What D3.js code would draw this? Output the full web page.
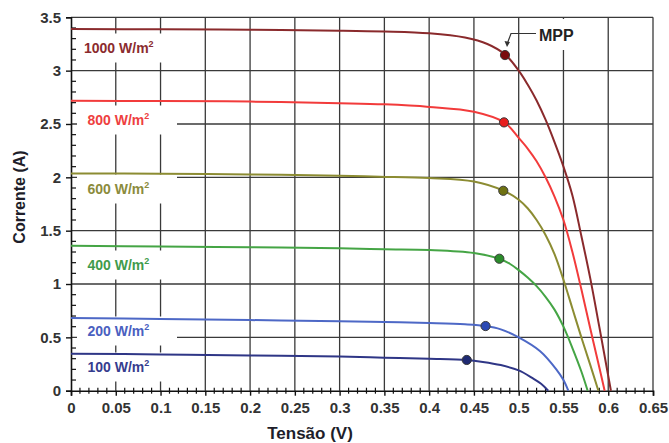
<!DOCTYPE html>
<html><head><meta charset="utf-8">
<script src="https://cdn.jsdelivr.net/npm/d3@7"></script>
<style>
html,body{margin:0;padding:0;background:#fff;}
svg{display:block;font-family:"Liberation Sans",Arial,Helvetica,sans-serif;}
</style></head>
<body><div id="chart"></div>
<script>
// ---------- data ----------
const xTicks = [0,0.05,0.1,0.15,0.2,0.25,0.3,0.35,0.4,0.45,0.5,0.55,0.6,0.65];
const xTickLabels = ["0","0.05","0.1","0.15","0.2","0.25","0.3","0.35","0.4","0.45","0.5","0.55","0.6","0.65"];
const yTicks = [0,0.5,1,1.5,2,2.5,3,3.5];
const yTickLabels = ["0","0.5","1","1.5","2","2.5","3","3.5"];
const irradiance = ["1000","800","600","400","200","100"];

// I-V curves: [tensão (V), corrente (A)]
const curve1000 = [[0,3.39],[0.1,3.387],[0.2,3.383],[0.3,3.375],[0.35,3.367],[0.4,3.35],[0.44,3.31],[0.465,3.25],[0.485,3.15],[0.5,3.0],[0.51,2.87],[0.52,2.72],[0.53,2.54],[0.54,2.33],[0.55,2.1],[0.56,1.83],[0.57,1.45],[0.58,1.05],[0.59,0.6],[0.603,0]];
const curve800  = [[0,2.718],[0.1,2.715],[0.2,2.71],[0.3,2.695],[0.35,2.684],[0.4,2.66],[0.45,2.615],[0.484,2.515],[0.5,2.37],[0.51,2.27],[0.52,2.15],[0.53,2.0],[0.54,1.82],[0.55,1.6],[0.56,1.3],[0.57,0.95],[0.58,0.58],[0.59,0.22],[0.596,0]];
const curve600  = [[0,2.037],[0.1,2.033],[0.2,2.027],[0.3,2.015],[0.345,2.006],[0.4,1.993],[0.45,1.96],[0.483,1.874],[0.5,1.79],[0.51,1.71],[0.52,1.6],[0.53,1.46],[0.54,1.28],[0.55,1.04],[0.56,0.77],[0.57,0.5],[0.58,0.24],[0.589,0]];
const curve400  = [[0,1.359],[0.1,1.352],[0.2,1.345],[0.3,1.335],[0.35,1.325],[0.4,1.318],[0.45,1.29],[0.478,1.237],[0.49,1.19],[0.5,1.13],[0.51,1.06],[0.52,0.98],[0.53,0.88],[0.54,0.76],[0.55,0.6],[0.56,0.4],[0.57,0.18],[0.577,0]];
const curve200  = [[0,0.681],[0.1,0.672],[0.2,0.662],[0.3,0.652],[0.35,0.644],[0.4,0.634],[0.44,0.622],[0.463,0.606],[0.48,0.575],[0.5,0.5],[0.524,0.37],[0.542,0.2],[0.55,0.1],[0.5554,0]];
const curve100  = [[0,0.347],[0.1,0.34],[0.2,0.33],[0.3,0.32],[0.35,0.31],[0.4,0.30],[0.442,0.288],[0.46,0.27],[0.48,0.24],[0.5,0.19],[0.515,0.12],[0.525,0.065],[0.533,0]];
const curves = [curve1000, curve800, curve600, curve400, curve200, curve100];

// maximum power points [V, I]
const mppPoints = [[0.4847,3.146],[0.4836,2.515],[0.4828,1.874],[0.4784,1.237],[0.463,0.606],[0.442,0.288]];

// ---------- style / layout ----------
const lineColors   = ["#8a2a2c","#f23b3b","#8c8c32","#45a545","#4d68c6","#2f3686"];
const dotColors    = ["#7a0c0e","#e81e1e","#6f7212","#2a8c2a","#2c4ab5","#1f2a72"];
const labelColors  = ["#8b2b2e","#ee3f3f","#8b8b3c","#3f9b4c","#4a60bf","#363c8e"];
const labelCenterY = [48,120,189,265,331,367]; // px

const W = 669, H = 443;
const x = d3.scaleLinear().domain([0,0.65]).range([71,653]);
const y = d3.scaleLinear().domain([0,3.5]).range([390.7,17.3]);

const svg = d3.select("#chart").append("svg").attr("width",W).attr("height",H);

// grid
const grid = svg.append("g").attr("stroke","#3a3a3a").attr("stroke-width",1.3);
grid.selectAll("line.v").data(xTicks.slice(1)).join("line")
  .attr("x1",d=>x(d)).attr("x2",d=>x(d)).attr("y1",y(0)).attr("y2",y(3.5));
grid.selectAll("line.h").data(yTicks.slice(1)).join("line")
  .attr("x1",x(0)).attr("x2",x(0.65)).attr("y1",d=>y(d)).attr("y2",d=>y(d));

// white label boxes (cover grid)
svg.append("g").selectAll("rect").data(labelCenterY).join("rect")
  .attr("x",77).attr("width",100).attr("y",d=>d-14.5).attr("height",29).attr("fill","#fff");
svg.append("rect").attr("x",537).attr("y",19).attr("width",50).attr("height",31).attr("fill","#fff");

// axes
const xAxis = d3.axisBottom(x).tickValues(xTicks).tickFormat((d,i)=>xTickLabels[i]).tickSize(5).tickPadding(7);
const gx = svg.append("g").attr("transform",`translate(0,${y(0)})`).call(xAxis);
const yAxis = d3.axisLeft(y).tickValues(yTicks).tickFormat((d,i)=>yTickLabels[i]).tickSize(5).tickPadding(5);
const gy = svg.append("g").attr("transform",`translate(${x(0)},0)`).call(yAxis);
[gx,gy].forEach(g=>{
  g.select(".domain").attr("stroke","#111").attr("stroke-width",1.6);
  g.selectAll(".tick line").attr("stroke","#111").attr("stroke-width",1.4);
  g.selectAll(".tick text").attr("fill","#333").attr("font-size",15).attr("font-weight","bold")
   .attr("font-family","'Liberation Sans',Arial,sans-serif");
});
// minor ticks
const minorX = d3.range(1,65).map(i=>i/100).filter(v=>Math.round(v*100)%5!==0);
svg.append("g").attr("stroke","#111").attr("stroke-width",1.2).selectAll("line").data(minorX).join("line")
  .attr("x1",d=>x(d)).attr("x2",d=>x(d)).attr("y1",y(0)-3).attr("y2",y(0)+3);
const minorY = d3.range(1,35).map(i=>i/10).filter(v=>Math.round(v*10)%5!==0);
svg.append("g").attr("stroke","#111").attr("stroke-width",1.2).selectAll("line").data(minorY).join("line")
  .attr("x1",x(0)).attr("x2",x(0)+5).attr("y1",d=>y(d)).attr("y2",d=>y(d));

// curves
const line = d3.line().x(d=>x(d[0])).y(d=>y(d[1])).curve(d3.curveCatmullRom.alpha(0.5));
svg.append("g").selectAll("path").data(curves).join("path")
  .attr("d",line).attr("fill","none").attr("stroke",(d,i)=>lineColors[i]).attr("stroke-width",2);

// MPP dots
svg.append("g").selectAll("circle").data(mppPoints).join("circle")
  .attr("cx",d=>x(d[0])).attr("cy",d=>y(d[1])).attr("r",4.6)
  .attr("fill",(d,i)=>dotColors[i]).attr("stroke","#3a3a3a").attr("stroke-width",1);

// labels
const lbl = svg.append("g").selectAll("text").data(irradiance).join("text")
  .attr("x",(d,i)=> i===0 ? 84 : 87.5).attr("y",(d,i)=>labelCenterY[i]+5)
  .attr("fill",(d,i)=>labelColors[i]).attr("font-size",14).attr("font-weight","bold");
lbl.append("tspan").text(d=>d+" W/m");
lbl.append("tspan").text("2").attr("font-size",9).attr("dy",-6);

// MPP annotation
svg.append("path").attr("d","M536,33.5 H511 L507.5,43").attr("fill","none").attr("stroke","#333").attr("stroke-width",1.2);
svg.append("path").attr("d","M504.5,41 L507,47 L510,42 Z").attr("fill","#333");
svg.append("text").attr("x",539).attr("y",40.5).attr("font-size",16).attr("font-weight","bold").attr("fill","#222").text("MPP");

// axis titles
svg.append("text").attr("x",310).attr("y",439).attr("text-anchor","middle")
  .attr("font-size",17).attr("font-weight","bold").attr("fill","#1e1e2a").text("Tensão (V)");
svg.append("text").attr("transform","translate(25,197) rotate(-90)").attr("text-anchor","middle")
  .attr("font-size",16).attr("font-weight","bold").attr("fill","#1e1e2a").text("Corrente (A)");
</script></body></html>
